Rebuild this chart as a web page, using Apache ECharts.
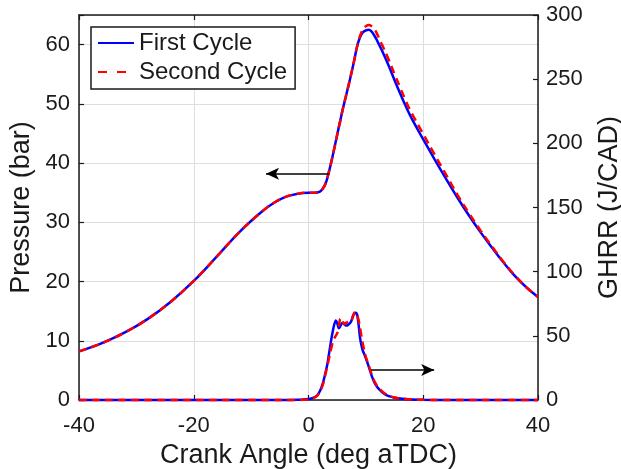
<!DOCTYPE html>
<html>
<head>
<meta charset="utf-8">
<script src="https://cdn.jsdelivr.net/npm/echarts@6/dist/echarts.min.js"></script>
<style>
  html, body { margin: 0; padding: 0; background: #fff; }
  #chart { width: 621px; height: 469px; }
</style>
</head>
<body>
<div id="chart"></div>
<script>
// crank angle grid for the pressure traces (deg aTDC)
const pressureAngles = [-40, -36, -32, -28, -24, -20, -16, -12, -8, -6, -4, -2, 0, 1, 2, 2.5, 3, 3.5, 4, 4.5, 5, 5.5, 6, 6.5, 7, 7.5, 8, 8.5, 9, 9.5, 10, 10.5, 11, 11.5, 12, 12.5, 13, 14, 15, 16, 17, 18, 20, 22, 24, 26, 28, 30, 32, 34, 36, 38, 40]
const pressureFirst = [8.2, 9.6, 11.4, 13.7, 16.6, 20.1, 24.2, 28.4, 31.9, 33.3, 34.3, 34.8, 35.0, 35.0, 35.2, 35.7, 36.6, 38.3, 40.3, 42.5, 44.8, 47.0, 49.2, 51.2, 53.2, 55.3, 57.5, 59.8, 61.3, 62.1, 62.4, 62.5, 62.2, 61.5, 60.6, 59.6, 58.6, 56.4, 54.0, 51.7, 49.5, 47.5, 44.0, 40.6, 37.3, 34.1, 31.1, 28.3, 25.7, 23.2, 20.9, 19.0, 17.4]
const pressureSecond = [8.2, 9.6, 11.4, 13.7, 16.6, 20.1, 24.2, 28.4, 31.9, 33.3, 34.3, 34.8, 35.0, 35.0, 35.2, 35.7, 36.6, 38.3, 40.3, 42.5, 44.8, 47.0, 49.2, 51.2, 53.2, 55.3, 57.5, 59.8, 61.5, 62.6, 63.1, 63.3, 63.1, 62.6, 61.7, 60.6, 59.6, 57.4, 55.0, 52.7, 50.4, 48.4, 44.9, 41.4, 38.0, 34.6, 31.5, 28.6, 25.9, 23.3, 21.0, 19.0, 17.4]

// crank angle grid for the heat release traces
const ghrrAngles = [-40, -20, -4, -2, -1, 0, 0.5, 1, 1.5, 2, 2.5, 3, 3.25, 3.5, 3.75, 4, 4.25, 4.5, 4.75, 5, 5.25, 5.5, 5.75, 6, 6.25, 6.5, 6.75, 7, 7.25, 7.5, 7.75, 8, 8.25, 8.5, 8.75, 9, 9.25, 9.5, 9.75, 10, 10.5, 11, 11.5, 12, 12.5, 13, 13.5, 14, 15, 16, 17, 18, 20, 24, 30, 40]
const ghrrFirst = [0, 0, 0, 0.2, 0.4, 0.8, 1.2, 2, 3.5, 7, 13, 22, 27, 34, 41, 48, 54, 59, 62, 60, 56, 57, 59.5, 60, 59, 58, 58, 59, 60, 62, 65.5, 67.5, 68, 66, 58, 48, 42, 38, 35.5, 32.5, 26, 19, 13.5, 10, 7.5, 5.5, 4, 3, 1.8, 1.1, 0.7, 0.4, 0.1, 0, 0, 0]
const ghrrSecond = [0, 0, 0, 0, 0.2, 0.5, 1, 1.8, 3.3, 6.5, 12, 21, 26, 31, 36, 41, 45.5, 48, 50, 52, 57, 63, 64, 61, 59, 60, 60.5, 61, 61, 62, 65, 68, 68.5, 66, 62, 56, 49, 43, 38, 33.5, 27, 20, 14.5, 10.5, 8, 6, 4.5, 3.2, 1.9, 1.1, 0.7, 0.4, 0.1, 0, 0, 0]

const xTicks = [-40, -20, 0, 20, 40]
const pressureTicks = [0, 10, 20, 30, 40, 50, 60]
const ghrrTicks = [0, 50, 100, 150, 200, 250, 300]

// annotation arrows: [from, to] in data coordinates
const pressureArrow = [[3.6, 38.2], [-7.4, 38.2]]
const ghrrArrow = [[10.9, 23.4], [21.9, 23.4]]

const font = "'Liberation Sans', Arial, Helvetica, sans-serif"
const ink = '#1a1a1a'
const gridColor = '#dedede'

function pairs(xs, ys) {
  return xs.map((x, i) => [x, ys[i]])
}

function arrowLine(a) {
  return {
    silent: true,
    symbol: ['none', 'arrow'],
    symbolSize: [9, 13],
    label: { show: false },
    lineStyle: { color: '#000', width: 1.5, type: 'solid' },
    data: [[{ coord: a[0] }, { coord: a[1] }]],
  }
}

const chart = echarts.init(document.getElementById('chart'), null, { renderer: 'canvas' })

const axisLine = { show: true, onZero: false, lineStyle: { color: ink, width: 1.5 } }
const axisTick = { show: true, inside: true, length: 5, lineStyle: { color: ink, width: 1.2 } }

chart.setOption({
  backgroundColor: '#fff',
  animation: false,
  textStyle: { fontFamily: font, color: ink },
  grid: { left: 79, right: 83, top: 15, bottom: 69, containLabel: false, outerBoundsMode: 'none' },
  legend: {
    orient: 'vertical',
    left: 91,
    top: 27,
    padding: [4, 8, 5, 6],
    itemGap: 5,
    itemWidth: 36,
    itemHeight: 14,
    backgroundColor: '#fff',
    borderColor: ink,
    borderWidth: 1.5,
    borderRadius: 0,
    itemStyle: { opacity: 0 },
    textStyle: { fontFamily: font, fontSize: 24, color: ink },
    data: [
      { name: 'First Cycle' },
      { name: 'Second Cycle', lineStyle: { type: [9, 10] } },
    ],
  },
  xAxis: [
    {
      type: 'value',
      min: -40,
      max: 40,
      interval: 20,
      name: 'Crank Angle (deg aTDC)',
      nameLocation: 'middle',
      nameGap: 34,
      nameTextStyle: { fontFamily: font, fontSize: 27, color: ink },
      axisLine,
      axisTick,
      axisLabel: {
        fontFamily: font, fontSize: 22, color: ink, margin: 15,
        formatter: v => (xTicks.includes(v) ? String(v) : ''),
      },
      splitLine: { show: true, lineStyle: { color: gridColor, width: 1 } },
    },
    {
      type: 'value',
      position: 'top',
      min: -40,
      max: 40,
      interval: 20,
      axisLine,
      axisTick,
      axisLabel: { show: false },
      splitLine: { show: false },
    },
  ],
  yAxis: [
    {
      type: 'value',
      min: 0,
      max: 65,
      interval: 10,
      name: 'Pressure (bar)',
      nameLocation: 'middle',
      nameGap: 41,
      nameTextStyle: { fontFamily: font, fontSize: 27, color: ink },
      axisLine,
      axisTick,
      axisLabel: {
        fontFamily: font, fontSize: 22, color: ink, margin: 9,
        formatter: v => (pressureTicks.includes(v) ? String(v) : ''),
      },
      splitLine: { show: true, lineStyle: { color: gridColor, width: 1 } },
    },
    {
      type: 'value',
      position: 'right',
      min: 0,
      max: 300,
      interval: 50,
      alignTicks: false,
      name: 'GHRR (J/CAD)',
      nameLocation: 'middle',
      nameGap: 58,
      nameTextStyle: { fontFamily: font, fontSize: 27, color: ink },
      axisLine,
      axisTick,
      axisLabel: {
        fontFamily: font, fontSize: 22, color: ink, margin: 8,
        formatter: v => (ghrrTicks.includes(v) ? String(v) : ''),
      },
      splitLine: { show: false },
    },
  ],
  series: [
    {
      name: 'First Cycle',
      type: 'line',
      yAxisIndex: 0,
      data: pairs(pressureAngles, pressureFirst),
      symbol: 'none',
      smooth: 0.4,
      lineStyle: { color: '#0000ff', width: 2.5 },
      itemStyle: { color: '#0000ff' },
      markLine: arrowLine(pressureArrow),
    },
    {
      name: 'Second Cycle',
      type: 'line',
      yAxisIndex: 0,
      data: pairs(pressureAngles, pressureSecond),
      symbol: 'none',
      smooth: 0.4,
      lineStyle: { color: '#ff0000', width: 2.5, type: [8, 5] },
      itemStyle: { color: '#ff0000' },
    },
    {
      name: 'First Cycle',
      type: 'line',
      yAxisIndex: 1,
      data: pairs(ghrrAngles, ghrrFirst),
      symbol: 'none',
      smooth: 0.2,
      clip: false,
      lineStyle: { color: '#0000ff', width: 2.5 },
      itemStyle: { color: '#0000ff' },
      markLine: arrowLine(ghrrArrow),
    },
    {
      name: 'Second Cycle',
      type: 'line',
      yAxisIndex: 1,
      data: pairs(ghrrAngles, ghrrSecond),
      symbol: 'none',
      smooth: 0.2,
      clip: false,
      lineStyle: { color: '#ff0000', width: 2.5, type: [8, 5] },
      itemStyle: { color: '#ff0000' },
    },
  ],
})
</script>
</body>
</html>
